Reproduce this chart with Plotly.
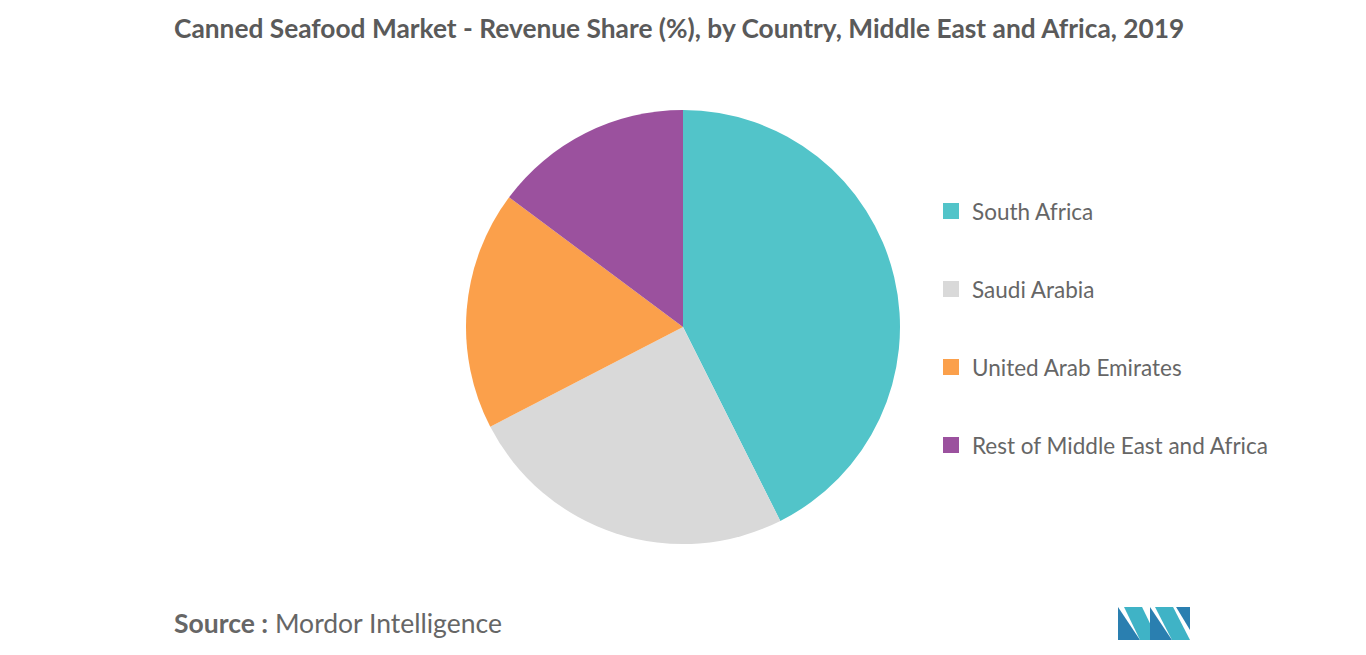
import plotly.graph_objects as go

countries = ["South Africa", "Saudi Arabia", "United Arab Emirates", "Rest of Middle East and Africa"]
shares = [42.6, 24.8, 17.8, 14.8]
colors = ["#52C4C9", "#D9D9D9", "#FBA04B", "#9B519E"]

W, H, OFF = 1366, 655, 8  # page body margin shifts the figure by ~8px


def fx(x):
    return (x - OFF) / W


def fy(y):
    return 1 - (y - OFF) / H


fig = go.Figure()
fig.add_trace(go.Pie(labels=countries, values=shares, sort=False, direction="clockwise",
                     rotation=0, textinfo="none", hoverinfo="label+percent",
                     marker=dict(colors=colors), showlegend=False,
                     domain=dict(x=[fx(466), fx(900)], y=[fy(544), fy(110)])))

# hand-made legend with wide row spacing
for i, (name, col) in enumerate(zip(countries, colors)):
    yc = 211 + 78 * i
    fig.add_shape(type="rect", xref="paper", yref="paper",
                  x0=fx(943), x1=fx(959), y0=fy(yc + 8), y1=fy(yc - 8),
                  fillcolor=col, line_width=0)
    fig.add_annotation(x=fx(970), y=fy(yc), xref="paper", yref="paper", text=name,
                       showarrow=False, xanchor="left", yanchor="middle",
                       font=dict(size=22.5, color="#666666"))

fig.add_annotation(x=fx(172), y=fy(28), xref="paper", yref="paper",
                   text="<b>Canned Seafood Market - Revenue Share (%), by Country, Middle East and Africa, 2019</b>",
                   showarrow=False, xanchor="left", yanchor="middle",
                   font=dict(size=26.3, color="#5a5a5a"))
fig.add_annotation(x=fx(172), y=fy(623), xref="paper", yref="paper",
                   text="<b>Source :</b> Mordor Intelligence",
                   showarrow=False, xanchor="left", yanchor="middle",
                   font=dict(size=26.5, color="#666666"))

# logo
logo = [
    ([(1118, 640), (1118, 607), (1140, 640)], "#2a7fb0"),
    ([(1124, 607), (1142, 607), (1158, 640), (1140, 640)], "#3fb3c6"),
    ([(1150, 607), (1172, 640), (1150, 640)], "#2a7fb0"),
    ([(1155, 607), (1173, 607), (1190, 640), (1172, 640)], "#3fb3c6"),
    ([(1176, 607), (1190, 607), (1190, 630)], "#2a7fb0"),
]
for pts, col in logo:
    path = "M " + " L ".join(f"{fx(x):.4f},{fy(y):.4f}" for x, y in pts) + " Z"
    fig.add_shape(type="path", xref="paper", yref="paper", path=path, fillcolor=col, line_width=0)

fig.update_layout(width=W, height=H, margin=dict(l=0, r=0, t=0, b=0),
                  paper_bgcolor="white", plot_bgcolor="white",
                  font=dict(family="Lato, Noto Sans, sans-serif"))

fig.write_html("out.html")
